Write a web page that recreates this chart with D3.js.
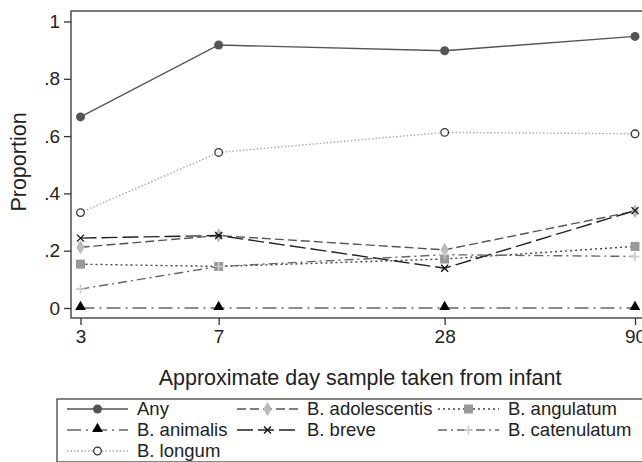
<!DOCTYPE html>
<html>
<head>
<meta charset="utf-8">
<script src="https://cdn.jsdelivr.net/npm/d3@7"></script>
<style>
  body { margin: 0; background: #fff; }
  svg { display: block; font-family: "Liberation Sans", Arial, sans-serif; }
</style>
</head>
<body>
<div id="chart"></div>
<script>
// days the samples were taken (x) and the proportion per group (y)
var days = [3, 7, 28, 90];
var yTicks = [0, 0.2, 0.4, 0.6, 0.8, 1];
var yTickLabels = ["0", ".2", ".4", ".6", ".8", "1"];

var anyVals = [0.667, 0.918, 0.898, 0.948];
var adolescentisVals = [0.212, 0.253, 0.203, 0.338];
var angulatumVals = [0.153, 0.145, 0.171, 0.215];
var animalisVals = [0, 0, 0, 0];
var breveVals = [0.244, 0.253, 0.139, 0.340];
var catenulatumVals = [0.066, 0.145, 0.186, 0.180];
var longumVals = [0.333, 0.543, 0.613, 0.608];

var series = [
  {name: "Any", values: anyVals, stroke: "#555", dash: null, marker: "circle", mfill: "#555", mstroke: "#555"},
  {name: "B. adolescentis", values: adolescentisVals, stroke: "#555", dash: "9,4", marker: "diamond", mfill: "#bbb", mstroke: "#bbb"},
  {name: "B. angulatum", values: angulatumVals, stroke: "#444", dash: "2,3", marker: "square", mfill: "#999", mstroke: "#999"},
  {name: "B. animalis", values: animalisVals, stroke: "#666", dash: "14,5,2,5", marker: "triangle", mfill: "#000", mstroke: "#000"},
  {name: "B. breve", values: breveVals, stroke: "#222", dash: "16,5", marker: "cross", mfill: "none", mstroke: "#111"},
  {name: "B. catenulatum", values: catenulatumVals, stroke: "#666", dash: "9,4,2,4", marker: "plus", mfill: "none", mstroke: "#ccc"},
  {name: "B. longum", values: longumVals, stroke: "#aaa", dash: "1.5,2", marker: "ring", mfill: "#fff", mstroke: "#333"}
];

var W = 642, H = 462;
var frame = {left: 71, top: 11, right: 650, bottom: 318};

var svg = d3.select("#chart").append("svg")
  .attr("width", W)
  .attr("height", H);

var x = d3.scaleLog().domain([3, 90]).range([80.5, 635]);
var y = d3.scaleLinear().domain([0, 1]).range([308, 21.5]);

// plot frame
svg.append("rect")
  .attr("x", frame.left).attr("y", frame.top)
  .attr("width", frame.right - frame.left)
  .attr("height", frame.bottom - frame.top)
  .attr("fill", "none").attr("stroke", "#333").attr("stroke-width", 1.3);

// y axis
var yAxis = d3.axisLeft(y)
  .tickValues(yTicks)
  .tickFormat(function(d, i) { return yTickLabels[i]; })
  .tickSize(7).tickPadding(4);
var gy = svg.append("g").attr("transform", "translate(" + frame.left + ",0)").call(yAxis);
gy.select(".domain").remove();
gy.selectAll("line").attr("stroke", "#333").attr("stroke-width", 1.3);
gy.selectAll("text").attr("font-size", 19).attr("fill", "#222")
  .attr("font-family", "Liberation Sans, Arial, sans-serif");

// x axis
var xAxis = d3.axisBottom(x)
  .tickValues(days)
  .tickFormat(d3.format("d"))
  .tickSize(7).tickPadding(5);
var gx = svg.append("g").attr("transform", "translate(0," + frame.bottom + ")").call(xAxis);
gx.select(".domain").remove();
gx.selectAll("line").attr("stroke", "#333").attr("stroke-width", 1.3);
gx.selectAll("text").attr("font-size", 19).attr("fill", "#222")
  .attr("font-family", "Liberation Sans, Arial, sans-serif");

// axis titles
svg.append("text")
  .attr("x", 360).attr("y", 385)
  .attr("text-anchor", "middle")
  .attr("font-size", 21.5).attr("fill", "#222")
  .text("Approximate day sample taken from infant");

svg.append("text")
  .attr("transform", "translate(26,162) rotate(-90)")
  .attr("text-anchor", "middle")
  .attr("font-size", 21.5).attr("fill", "#222")
  .text("Proportion");

function drawMarker(g, s, cx, cy) {
  if (s.marker == "circle") {
    g.append("circle").attr("cx", cx).attr("cy", cy).attr("r", 4.5)
      .attr("fill", s.mfill);
  } else if (s.marker == "ring") {
    g.append("circle").attr("cx", cx).attr("cy", cy).attr("r", 3.8)
      .attr("fill", s.mfill).attr("stroke", s.mstroke).attr("stroke-width", 1.3);
  } else if (s.marker == "diamond") {
    g.append("path").attr("d", d3.symbol(d3.symbolDiamond, 60)())
      .attr("transform", "translate(" + cx + "," + cy + ")")
      .attr("fill", s.mfill);
  } else if (s.marker == "square") {
    g.append("rect").attr("x", cx - 4.5).attr("y", cy - 4.5)
      .attr("width", 9).attr("height", 9).attr("fill", s.mfill);
  } else if (s.marker == "triangle") {
    g.append("path").attr("d", d3.symbol(d3.symbolTriangle, 50)())
      .attr("transform", "translate(" + cx + "," + (cy - 1) + ")")
      .attr("fill", s.mfill);
  } else if (s.marker == "cross") {
    g.append("path").attr("d", "M-3.5,-3.5L3.5,3.5M-3.5,3.5L3.5,-3.5")
      .attr("transform", "translate(" + cx + "," + cy + ")")
      .attr("stroke", s.mstroke).attr("stroke-width", 1.3).attr("fill", "none");
  } else if (s.marker == "plus") {
    g.append("path").attr("d", "M-4.5,0L4.5,0M0,-4.5L0,4.5")
      .attr("transform", "translate(" + cx + "," + cy + ")")
      .attr("stroke", s.mstroke).attr("stroke-width", 1.6).attr("fill", "none");
  }
}

var line = d3.line()
  .x(function(d, i) { return x(days[i]); })
  .y(function(d) { return y(d); });

// series lines and markers
series.forEach(function(s) {
  var g = svg.append("g");
  g.append("path")
    .attr("d", line(s.values))
    .attr("fill", "none")
    .attr("stroke", s.stroke)
    .attr("stroke-width", 1.4)
    .attr("stroke-dasharray", s.dash);
  s.values.forEach(function(v, i) {
    drawMarker(g, s, x(days[i]), y(v));
  });
});

// legend
var legTop = 399;
svg.append("rect")
  .attr("x", 57).attr("y", legTop)
  .attr("width", 620).attr("height", 63)
  .attr("fill", "none").attr("stroke", "#333").attr("stroke-width", 1.2);

var legCols = [67, 237, 438];
var legRows = [409, 430, 451];
series.forEach(function(s, i) {
  var lx = legCols[i % 3], ly = legRows[Math.floor(i / 3)];
  var g = svg.append("g");
  g.append("line")
    .attr("x1", lx).attr("x2", lx + 61)
    .attr("y1", ly).attr("y2", ly)
    .attr("stroke", s.stroke).attr("stroke-width", 1.4)
    .attr("stroke-dasharray", s.dash);
  drawMarker(g, s, lx + 30.5, ly);
  g.append("text")
    .attr("x", lx + 70).attr("y", ly)
    .attr("dy", "0.35em")
    .attr("font-size", 18.5).attr("fill", "#222")
    .text(s.name);
});
</script>
</body>
</html>
